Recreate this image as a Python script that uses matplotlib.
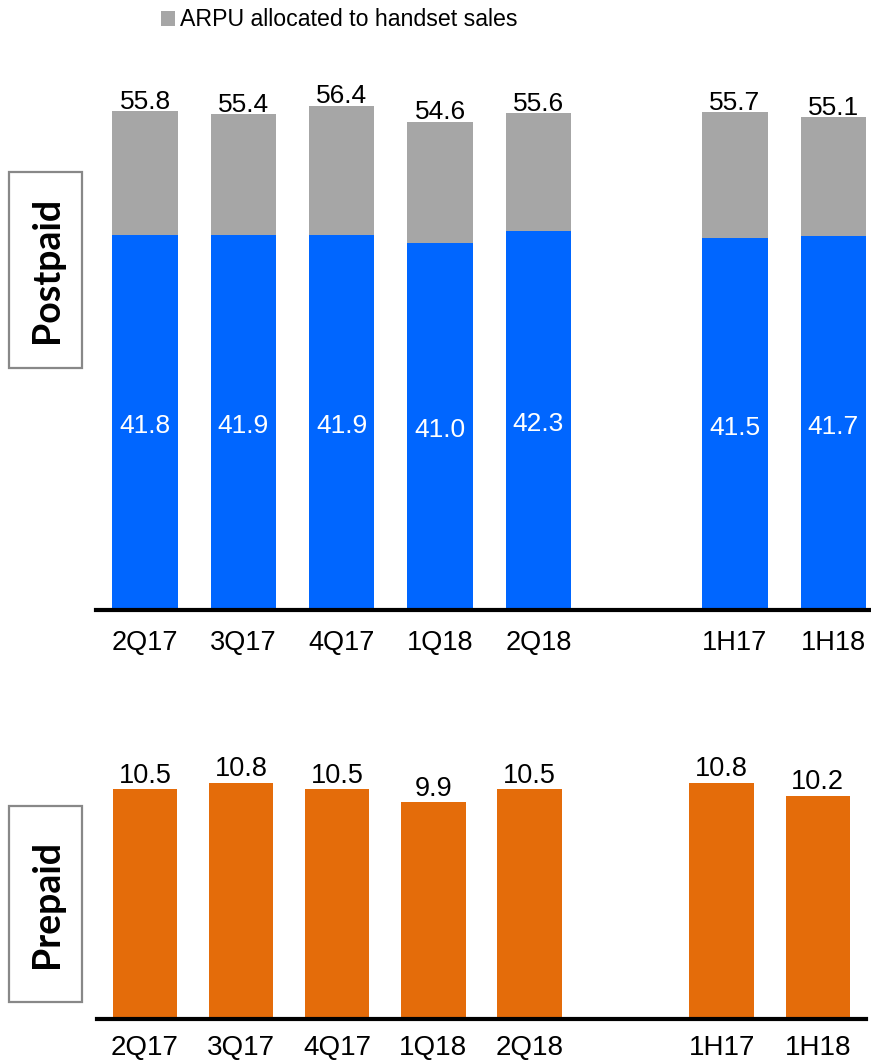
import numpy as np
import matplotlib
matplotlib.use('Agg')
import matplotlib.pyplot as plt
from matplotlib.patches import Rectangle

# データ
periods = ['2Q17', '3Q17', '4Q17', '1Q18', '2Q18', '1H17', '1H18']
slots = [0, 1, 2, 3, 4, 6, 7]   # 2Q18 と 1H17 の間は1枠空ける
postpaid_total = [55.8, 55.4, 56.4, 54.6, 55.6, 55.7, 55.1]
postpaid_service = [41.8, 41.9, 41.9, 41.0, 42.3, 41.5, 41.7]
prepaid_arpu = [10.5, 10.8, 10.5, 9.9, 10.5, 10.8, 10.2]

handset_part = [t - s for t, s in zip(postpaid_total, postpaid_service)]

BLUE = '#0066FF'
GRAY = '#A6A6A6'
ORANGE = '#E46C0A'

plt.rcParams['font.family'] = ['Liberation Sans', 'DejaVu Sans']

W, H = 871, 1064
fig = plt.figure(figsize=(W / 100, H / 100), dpi=100)

# --- Postpaid ---
ax1 = fig.add_axes([96 / W, 1 - 607.5 / H, 786.4 / W, 557.5 / H])
b_blue = ax1.bar(slots, postpaid_service, width=0.665, color=BLUE)
b_gray = ax1.bar(slots, handset_part, width=0.665, bottom=postpaid_service, color=GRAY)
ax1.set_xlim(-0.5, 7.5)
ax1.set_ylim(0, 557.5 / 8.9)
for x, s, t in zip(slots, postpaid_service, postpaid_total):
    ax1.annotate(f'{s:.1f}', (x, s / 2), xytext=(0, -3.5), textcoords='offset points',
                 ha='center', va='center', color='white', fontsize=19)
    ax1.annotate(f'{t:.1f}', (x, t), xytext=(0, 1.5), textcoords='offset points',
                 ha='center', va='baseline', fontsize=19)

# --- Prepaid ---
ax2 = fig.add_axes([97 / W, 1 - 1017 / H, 768.8 / W, 297 / H])
ax2.bar(slots, prepaid_arpu, width=0.67, color=ORANGE)
ax2.set_xlim(-0.5, 7.5)
ax2.set_ylim(0, 297 / 21.7)
for x, v in zip(slots, prepaid_arpu):
    ax2.annotate(f'{v:.1f}', (x, v), xytext=(0, 4.5), textcoords='offset points',
                 ha='center', va='baseline', fontsize=19.5)

for ax, pad, fs in [(ax1, 14.5, 19.5), (ax2, 11.5, 20)]:
    for side in ['top', 'right', 'left']:
        ax.spines[side].set_visible(False)
    ax.spines['bottom'].set_linewidth(3)
    ax.spines['bottom'].set_position(('outward', 1.5))
    ax.set_yticks([])
    ax.set_xticks(slots)
    ax.set_xticklabels(periods, fontsize=fs)
    ax.tick_params(axis='x', length=0, pad=pad)

# 凡例
ax1.legend([b_gray], ['ARPU allocated to handset sales'], loc='center left',
           bbox_to_anchor=(161 / W, 1 - 20 / H), bbox_transform=fig.transFigure,
           frameon=False, fontsize=16.7, handlelength=0.6, handleheight=0.6,
           handletextpad=0.2, borderpad=0, borderaxespad=0)

# 左側のラベル枠
for y_top, y_bot, label in [(172, 368, 'Postpaid'), (806, 1002, 'Prepaid')]:
    fig.add_artist(Rectangle((9 / W, 1 - y_bot / H), 73 / W, (y_bot - y_top) / H,
                             transform=fig.transFigure, fill=False,
                             edgecolor='#888888', linewidth=1.6))
    fig.text(47 / W, 1 - (y_top + y_bot) / 2 / H, label, rotation=90,
             ha='center', va='center', fontsize=27, fontweight='bold',
             family=['Lato', 'DejaVu Sans'])

fig.savefig('out.png', dpi=100)
